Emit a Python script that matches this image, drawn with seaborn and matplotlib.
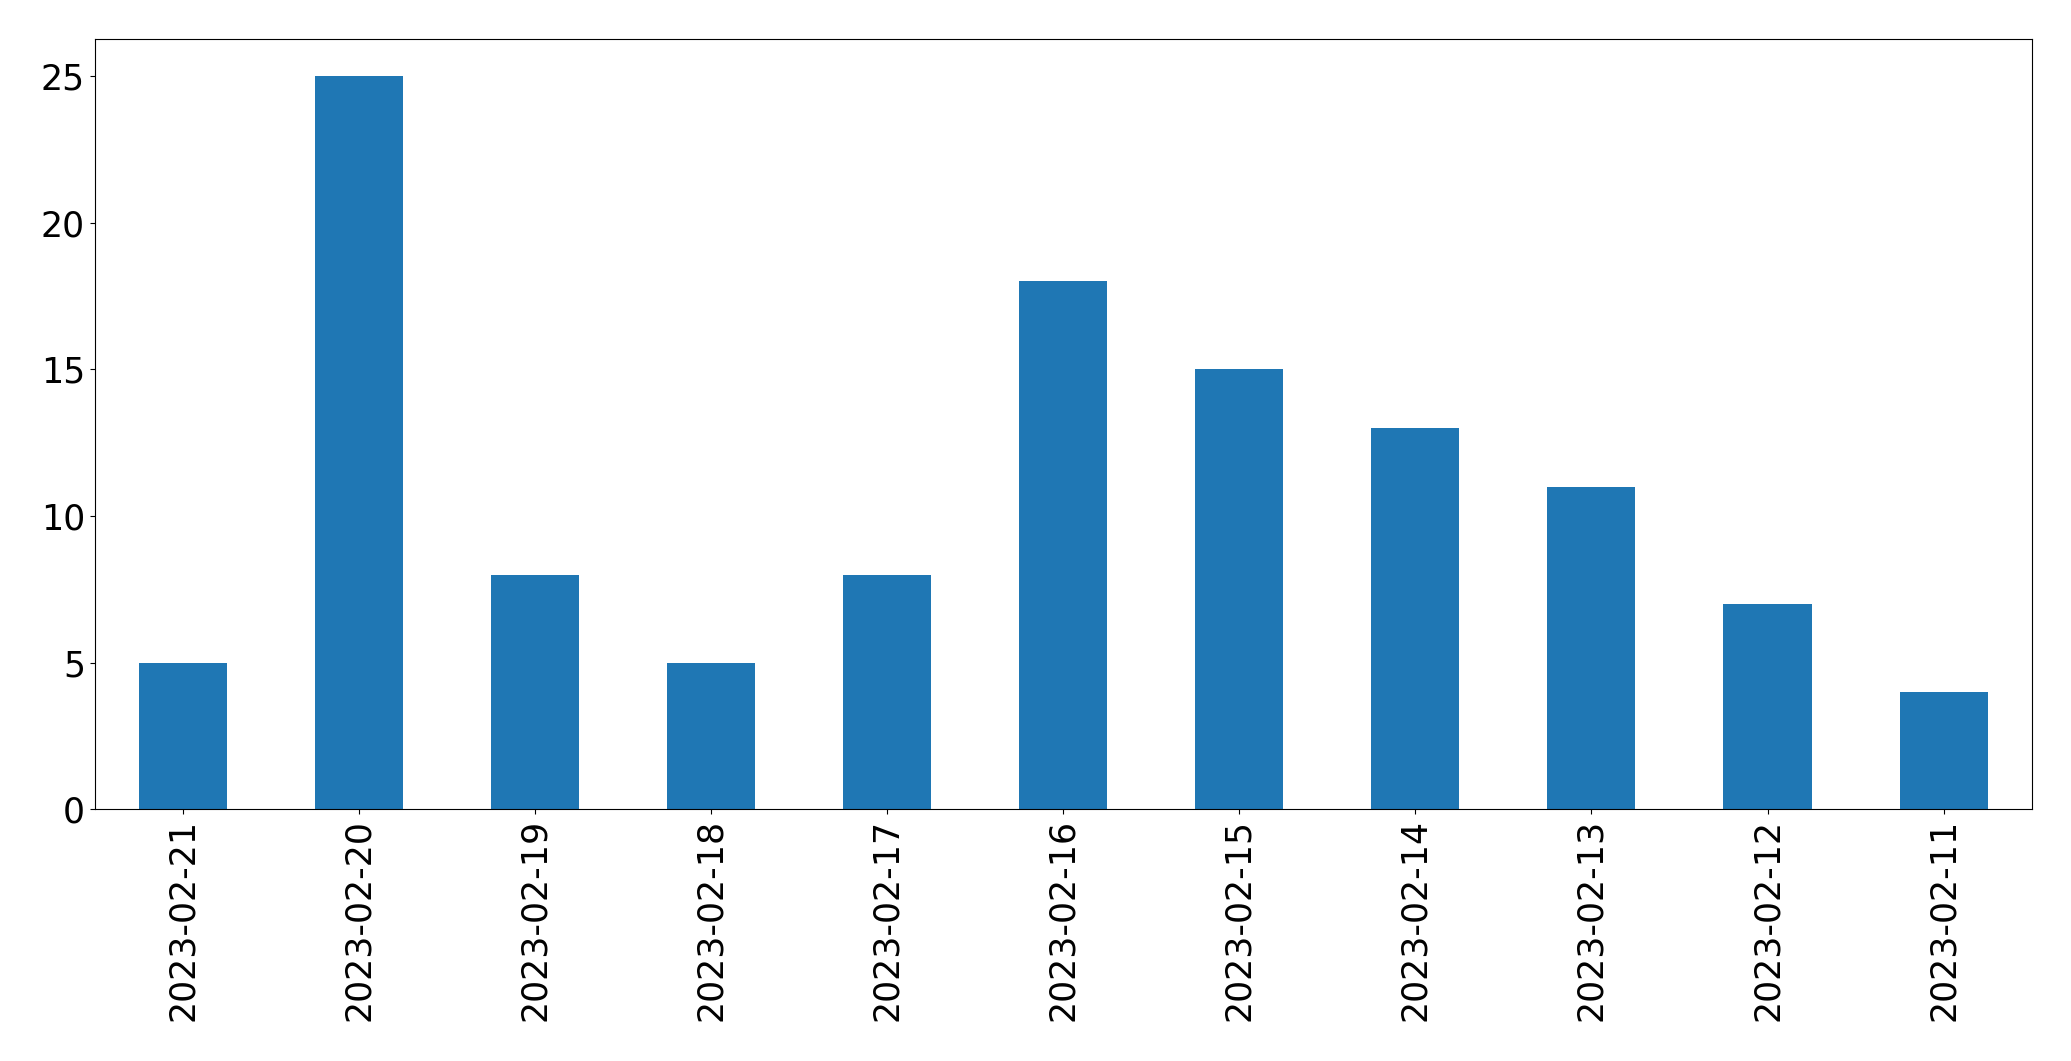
import pandas as pd
import matplotlib
matplotlib.use("Agg")
import matplotlib.pyplot as plt
import seaborn as sns

# ------------------------------------
# Data
# ------------------------------------
dates = [
    "2023-02-21", "2023-02-20", "2023-02-19", "2023-02-18",
    "2023-02-17", "2023-02-16", "2023-02-15", "2023-02-14",
    "2023-02-13", "2023-02-12", "2023-02-11",
]
counts = [5, 25, 8, 5, 8, 18, 15, 13, 11, 7, 4]

df = pd.DataFrame({"date": dates, "count": counts})

# ------------------------------------
# Bar chart
# ------------------------------------
fig = plt.figure(figsize=(20.71, 10.61), dpi=100)
ax = fig.add_axes([0.0457, 0.2372, 0.9353, 0.7257])

sns.barplot(
    data=df,
    x="date",
    y="count",
    order=dates,
    color="#1f77b4",
    saturation=1,
    width=0.5,
    ax=ax
)

ax.set_xlim(-0.5, len(dates) - 0.5)
ax.set_xlabel("")
ax.set_ylabel("")
ax.tick_params(axis="both", labelsize=25)
ax.tick_params(axis="x", labelrotation=90)

fig.savefig("out.png", dpi=100)
plt.close()
